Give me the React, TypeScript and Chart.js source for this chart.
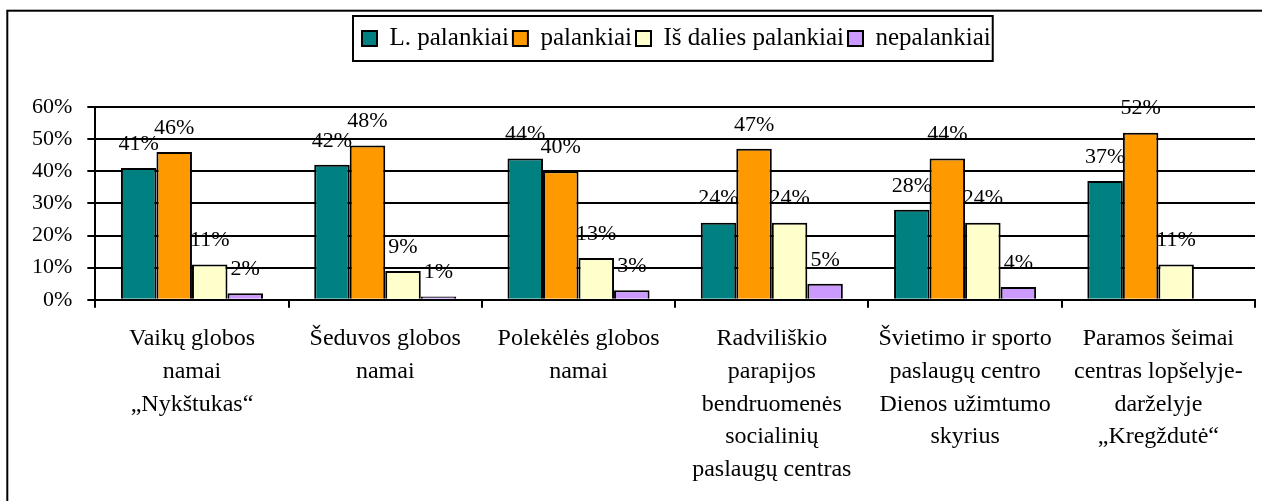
import React, { useEffect, useRef } from 'react';
import { Chart, registerables } from 'chart.js';

Chart.register(...registerables);

const FONT = "'Liberation Serif', 'Times New Roman', serif";

const categories: string[][] = [
  ['Vaikų globos', 'namai', '„Nykštukas“'],
  ['Šeduvos globos', 'namai'],
  ['Polekėlės globos', 'namai'],
  ['Radviliškio', 'parapijos', 'bendruomenės', 'socialinių', 'paslaugų centras'],
  ['Švietimo ir sporto', 'paslaugų centro', 'Dienos užimtumo', 'skyrius'],
  ['Paramos šeimai', 'centras lopšelyje-', 'darželyje', '„Kregždutė“'],
];

const seriesNames = ['L. palankiai', 'palankiai', 'Iš dalies palankiai', 'nepalankiai'];
const lPalankiai = [41, 42, 44, 24, 28, 37];
const palankiai = [46, 48, 40, 47, 44, 52];
const isDaliesPalankiai = [11, 9, 13, 24, 24, 11];
const nepalankiai: (number | null)[] = [2, 1, 3, 5, 4, null];
const seriesColors = ['#008080', '#FF9900', '#FFFFCC', '#CC99FF'];
const yMin = 0;
const yMax = 60;
const yStep = 10;

const LEGEND_START = 362;

const framePlugin = {
  id: 'frame',
  beforeDraw(chart: any) {
    const ctx = chart.ctx;
    ctx.save();
    ctx.fillStyle = '#fff';
    ctx.fillRect(0, 0, chart.width, chart.height);
    ctx.strokeStyle = '#000';
    ctx.lineWidth = 2;
    ctx.strokeRect(7.3, 10.7, 3000, 3000);
    ctx.restore();
  },
};

const legendShift = {
  id: 'legendShift',
  afterLayout(chart: any) {
    const lg = chart.legend;
    if (!lg || !lg.lineWidths) return;
    const pad = lg.options.labels.padding;
    const start = (lg.left + pad + lg.right - lg.lineWidths[0]) / 2;
    const d = LEGEND_START - start;
    lg.left += d;
    lg.right += d;
  },
};

const legendBox = {
  id: 'legendBox',
  afterDraw(chart: any) {
    const lg = chart.legend;
    if (!lg || !lg.legendHitBoxes || !lg.legendHitBoxes.length) return;
    const hbs = lg.legendHitBoxes;
    const first = hbs[0];
    const last = hbs[hbs.length - 1];
    const cy = first.top + first.height / 2;
    const ctx = chart.ctx;
    ctx.save();
    ctx.strokeStyle = '#000';
    ctx.lineWidth = 2;
    ctx.strokeRect(first.left - 9, cy - 22.5, last.left + last.width + 2 - (first.left - 9), 45);
    ctx.restore();
  },
};

const valueLabels = {
  id: 'valueLabels',
  afterDatasetsDraw(chart: any) {
    const ctx = chart.ctx;
    ctx.save();
    ctx.font = `22px ${FONT}`;
    ctx.fillStyle = '#000';
    ctx.textAlign = 'center';
    ctx.textBaseline = 'middle';
    chart.data.datasets.forEach((ds: any, di: number) => {
      const meta = chart.getDatasetMeta(di);
      meta.data.forEach((el: any, i: number) => {
        const v = ds.data[i];
        if (v == null) return;
        ctx.fillText(`${v}%`, el.x, el.y - 24);
      });
    });
    ctx.restore();
  },
};

export default function App() {
  const ref = useRef<HTMLCanvasElement | null>(null);

  useEffect(() => {
    if (!ref.current) return;
    const seriesData = [lPalankiai, palankiai, isDaliesPalankiai, nepalankiai];
    const chart = new Chart(ref.current, {
      type: 'bar',
      data: {
        labels: categories,
        datasets: seriesNames.map((name, i) => ({
          label: name,
          data: seriesData[i],
          backgroundColor: seriesColors[i],
          borderColor: '#000',
          borderWidth: 2,
          categoryPercentage: 0.735,
          barPercentage: 1.0,
        })),
      },
      options: {
        responsive: false,
        animation: false,
        devicePixelRatio: 1,
        layout: { padding: { top: 22, left: 17, right: 7, bottom: 0 } },
        plugins: {
          tooltip: { enabled: false },
          legend: {
            position: 'top',
            labels: {
              color: '#000',
              font: { family: FONT, size: 25 },
              boxWidth: 15,
              boxHeight: 15,
              padding: 4,
            },
          },
          subtitle: {
            display: true,
            text: '',
            weight: 500,
            padding: 0,
            font: { size: 46, lineHeight: 1 },
          },
          title: { display: false },
        },
        scales: {
          x: {
            grid: {
              drawOnChartArea: false,
              drawTicks: true,
              tickLength: 8,
              color: '#000',
              lineWidth: 2,
            },
            border: { color: '#000', width: 2 },
            ticks: {
              color: '#000',
              font: { family: FONT, size: 24, lineHeight: 1.36 },
              padding: 15,
              autoSkip: false,
              maxRotation: 0,
              minRotation: 0,
            },
          },
          y: {
            min: yMin,
            max: yMax,
            grid: {
              color: '#000',
              lineWidth: 2,
              drawTicks: true,
              tickLength: 8,
            },
            border: { color: '#000', width: 2 },
            ticks: {
              stepSize: yStep,
              color: '#000',
              font: { family: FONT, size: 22 },
              padding: 15,
              callback: (v: any) => `${v}%`,
            },
          },
        },
      },
      plugins: [framePlugin, legendShift, legendBox, valueLabels],
    });
    return () => chart.destroy();
  }, []);

  return (
    <div
      style={{
        position: 'fixed',
        left: 0,
        top: 0,
        width: 1262,
        height: 501,
        overflow: 'hidden',
        background: '#fff',
      }}
    >
      <canvas ref={ref} width={1262} height={501} style={{ display: 'block' }} />
    </div>
  );
}
